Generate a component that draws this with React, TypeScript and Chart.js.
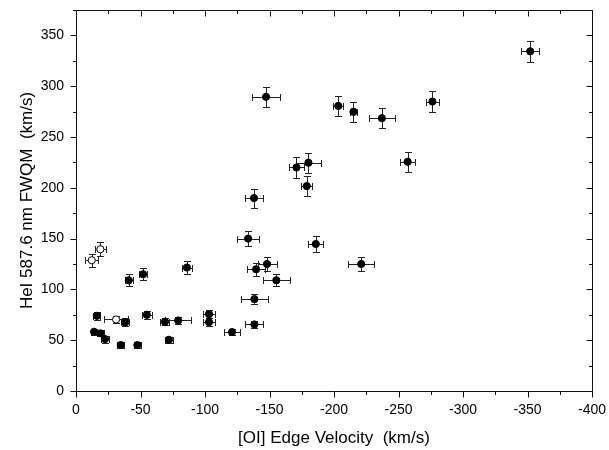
import React, { useEffect, useRef } from "react";
import { Chart, registerables } from "chart.js";

Chart.register(...registerables);

// Filled markers
const filledX = [-16.1, -14, -18.9, -22.5, -34.7, -47.6, -38.1, -40.9, -52, -54.9, -68.9, -72, -79.2, -86, -103.1, -103.1, -120.9, -133.4, -138, -138.3, -138.3, -139.6, -147.3, -148.1, -155.3, -170.9, -178.9, -180.2, -185.9, -203.3, -215.1, -221.1, -237.1, -257.1, -276.3, -352.1];
const filledY = [74, 58.3, 56.7, 51.1, 45.2, 45.2, 67.5, 109, 114.9, 75, 68.1, 50.4, 69.4, 121.5, 75.6, 67.8, 58, 150, 189.9, 65.5, 90.4, 119.8, 289.5, 125, 109, 220, 201.7, 224.7, 144.7, 280.6, 274.8, 125, 268.5, 225.6, 284.9, 334.3];
const filledXErr = [2.6, 2.5, 3, 3, 2.7, 2.7, 3, 3, 2.9, 3.9, 3.5, 3.1, 10, 3.9, 5, 5, 6.2, 8.3, 7, 7, 10.3, 7, 11, 7.4, 10.4, 6, 4.3, 10, 5.7, 4, 3, 10, 10, 6, 5, 7.2];
const filledYErr = [4.2, 3, 3, 3.4, 3, 3, 3.9, 5.7, 5.7, 3.9, 3.4, 3, 3.4, 6.2, 4, 4, 3.3, 7.5, 9.3, 3.3, 5.2, 6.2, 9.8, 6.5, 6, 10, 10, 10, 7.7, 9.8, 10, 6.5, 10, 10, 10, 10];

// Open markers
const openX = [-12.2, -18.9, -31.1];
const openY = [128.7, 139.5, 70.4];
const openXErr = [4.9, 4.3, 9.5];
const openYErr = [6.2, 7, 3];

const X_MIN = -400;
const X_MAX = 0;
const Y_MIN = 0;
const Y_MAX = 375;
const MAJOR_STEP = 50;
const MINOR_STEP = 25;

const X_TITLE = "[OI] Edge Velocity  (km/s)";
const Y_TITLE = "HeI 587.6 nm FWQM  (km/s)";

const FONT = "'Liberation Sans', Arial, Helvetica, sans-serif";

function buildPoints(xs: number[], ys: number[], xe: number[], ye: number[]) {
  return xs.map((x, i) => ({ x, y: ys[i], xErr: xe[i], yErr: ye[i] }));
}

const errorBarPlugin = {
  id: "errorBars",
  beforeDatasetsDraw(chart: any) {
    const { ctx, scales } = chart;
    const xs = scales.x;
    const ys = scales.y;
    const cap = 3.5;
    ctx.save();
    ctx.strokeStyle = "#222";
    ctx.lineWidth = 1;
    chart.data.datasets.forEach((ds: any) => {
      ds.data.forEach((p: any) => {
        const cx = Math.round(xs.getPixelForValue(p.x)) + 0.5;
        const cy = Math.round(ys.getPixelForValue(p.y)) + 0.5;
        const xa = Math.round(xs.getPixelForValue(p.x - p.xErr)) + 0.5;
        const xb = Math.round(xs.getPixelForValue(p.x + p.xErr)) + 0.5;
        const ya = Math.round(ys.getPixelForValue(p.y - p.yErr)) + 0.5;
        const yb = Math.round(ys.getPixelForValue(p.y + p.yErr)) + 0.5;
        ctx.beginPath();
        ctx.moveTo(xa, cy);
        ctx.lineTo(xb, cy);
        ctx.moveTo(xa, cy - cap);
        ctx.lineTo(xa, cy + cap);
        ctx.moveTo(xb, cy - cap);
        ctx.lineTo(xb, cy + cap);
        ctx.moveTo(cx, ya);
        ctx.lineTo(cx, yb);
        ctx.moveTo(cx - cap, ya);
        ctx.lineTo(cx + cap, ya);
        ctx.moveTo(cx - cap, yb);
        ctx.lineTo(cx + cap, yb);
        ctx.stroke();
      });
    });
    ctx.restore();
  },
};

const framePlugin = {
  id: "frameTicks",
  afterDraw(chart: any) {
    const { ctx, chartArea, scales } = chart;
    const { left, right, top, bottom } = chartArea;
    const xs = scales.x;
    const ys = scales.y;
    const majorLen = 6;
    const minorLen = 3.5;
    ctx.save();
    ctx.strokeStyle = "#111";
    ctx.lineWidth = 1;
    const L = Math.round(left) + 0.5;
    const R = Math.round(right) + 0.5;
    const T = Math.round(top) + 0.5;
    const B = Math.round(bottom) + 0.5;
    ctx.beginPath();
    ctx.rect(L, T, R - L, B - T);
    ctx.stroke();
    ctx.beginPath();
    for (let v = X_MAX; v >= X_MIN; v -= MINOR_STEP) {
      const len = v % MAJOR_STEP === 0 ? majorLen : minorLen;
      const px = Math.round(xs.getPixelForValue(v)) + 0.5;
      ctx.moveTo(px, B);
      ctx.lineTo(px, B + len);
      ctx.moveTo(px, T);
      ctx.lineTo(px, T + len);
    }
    for (let v = Y_MIN; v <= Y_MAX; v += MINOR_STEP) {
      const len = v % MAJOR_STEP === 0 ? majorLen : minorLen;
      const py = Math.round(ys.getPixelForValue(v)) + 0.5;
      ctx.moveTo(L, py);
      ctx.lineTo(L - len, py);
      ctx.moveTo(R, py);
      ctx.lineTo(R - len, py);
    }
    ctx.stroke();
    ctx.restore();
  },
};

export default function App() {
  const canvasRef = useRef<HTMLCanvasElement | null>(null);

  useEffect(() => {
    if (!canvasRef.current) return;
    Chart.defaults.font.family = FONT;
    const chart = new Chart(canvasRef.current, {
      type: "scatter",
      data: {
        datasets: [
          {
            label: "filled",
            data: buildPoints(filledX, filledY, filledXErr, filledYErr),
            backgroundColor: "#000",
            borderColor: "#000",
            borderWidth: 1,
            pointRadius: 3.6,
          },
          {
            label: "open",
            data: buildPoints(openX, openY, openXErr, openYErr),
            backgroundColor: "#fff",
            borderColor: "#000",
            borderWidth: 1,
            pointRadius: 3.6,
          },
        ] as any,
      },
      options: {
        animation: false,
        responsive: false,
        events: [],
        layout: { padding: { top: 10, right: 17, left: 0, bottom: 0 } },
        plugins: { legend: { display: false }, tooltip: { enabled: false } },
        scales: {
          x: {
            type: "linear",
            min: X_MIN,
            max: X_MAX,
            reverse: true,
            grid: { display: false, drawTicks: false },
            border: { display: false },
            ticks: {
              stepSize: MAJOR_STEP,
              includeBounds: false,
              padding: 11,
              color: "#000",
              font: { size: 14, family: FONT },
              callback: (v: any) => String(v),
            },
            title: {
              display: true,
              text: X_TITLE,
              color: "#000",
              font: { size: 17, family: FONT },
              padding: { top: 0, bottom: 1 },
            },
            afterFit: (s: any) => {
              s.height = 59;
              s.paddingLeft = 0;
              s.paddingRight = 0;
            },
          },
          y: {
            type: "linear",
            min: Y_MIN,
            max: Y_MAX,
            grid: { display: false, drawTicks: false },
            border: { display: false },
            ticks: {
              stepSize: MAJOR_STEP,
              includeBounds: false,
              padding: 12,
              color: "#000",
              font: { size: 14, family: FONT },
              callback: (v: any) => String(v),
            },
            title: {
              display: true,
              text: Y_TITLE,
              color: "#000",
              font: { size: 17, family: FONT },
              padding: { top: 17, bottom: 0 },
            },
            afterFit: (s: any) => {
              s.width = 76;
              s.paddingTop = 0;
              s.paddingBottom = 0;
            },
          },
        },
      },
      plugins: [errorBarPlugin, framePlugin],
    });
    return () => chart.destroy();
  }, []);

  return (
    <div style={{ position: "fixed", left: 0, top: 0, width: 609, height: 450, background: "#fff" }}>
      <canvas ref={canvasRef} width={609} height={450} style={{ display: "block" }} />
    </div>
  );
}
